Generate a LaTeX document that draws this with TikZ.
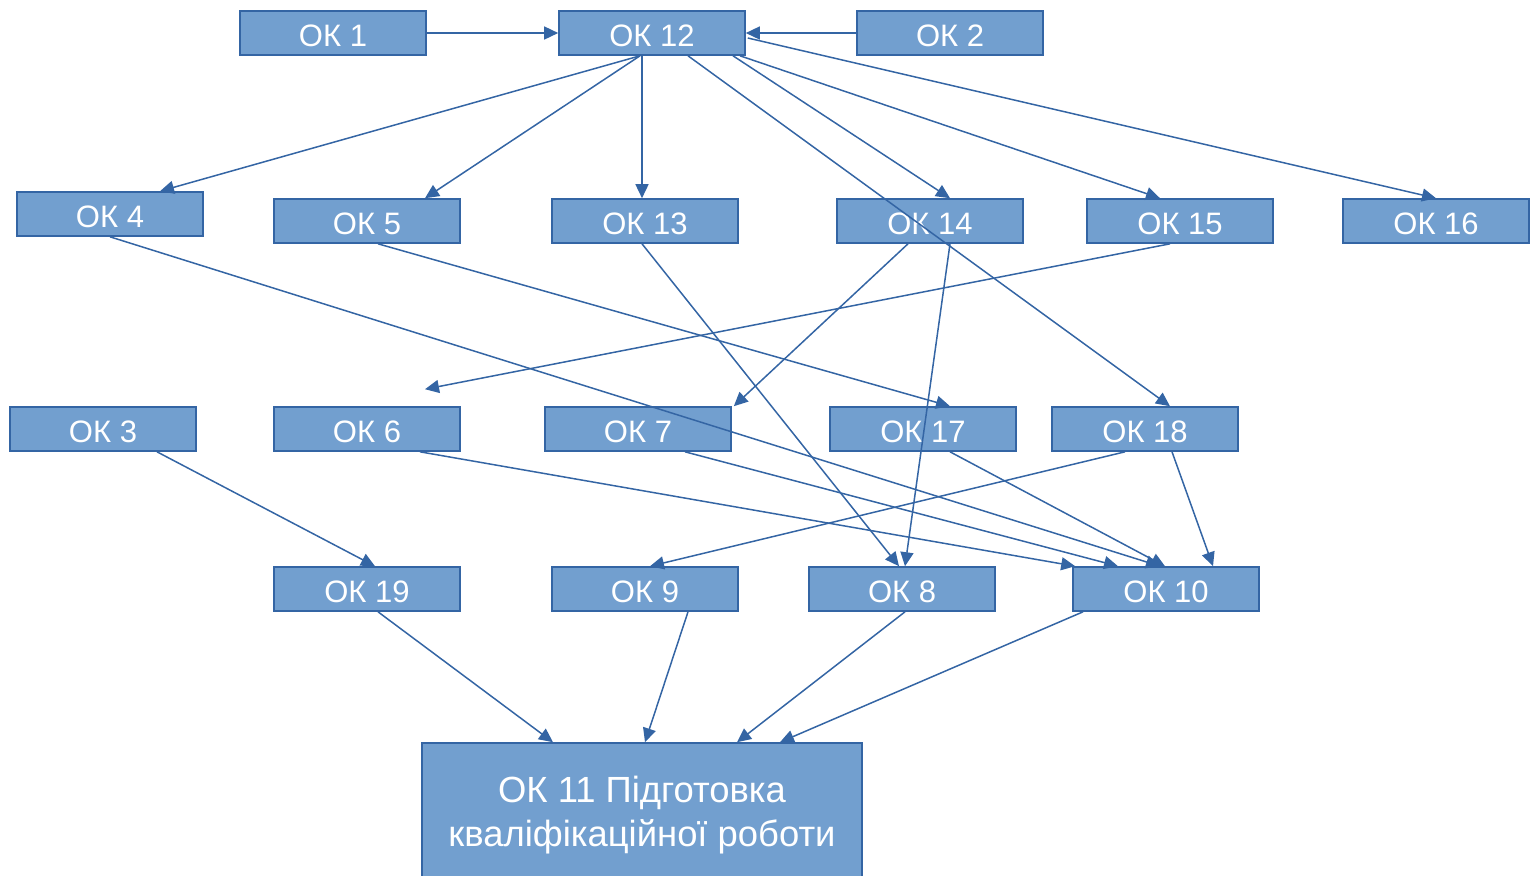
\documentclass[tikz,border=0pt]{standalone}
\usepackage{fontspec}
\setmainfont{Liberation Sans}
\usetikzlibrary{positioning, calc, arrows.meta}

\definecolor{boxfill}{HTML}{729FCF}
\definecolor{boxline}{HTML}{3465A4}

\begin{document}
\begin{tikzpicture}[
    x=0.5pt, y=-0.5pt,
    box/.style={
        rectangle,
        draw=boxline, fill=boxfill, line width=0.8pt,
        text=white, text centered,
        font=\fontsize{15.5}{18}\selectfont,
        inner sep=0pt,
        text height=13pt, text depth=0pt,
        minimum width=93pt,
        minimum height=22pt
    },
    bigbox/.style={
        box, align=center,
        text height=, text depth=,
        font=\fontsize{18.2}{22}\selectfont,
        minimum width=220pt,
        minimum height=72pt
    },
    link/.style={
        draw=boxline, line width=0.75pt,
        -{Triangle[length=7pt, width=6.5pt]}
    }
]
\useasboundingbox (0,0) rectangle (1530,875);

% row 1
\node[box] (ok1) at (333,33) {ОК 1};
\node[box] (ok12) at (652,33) {ОК 12};
\node[box] (ok2) at (950,33) {ОК 2};

% row 2
\node[box] (ok4) at (110,214) {ОК 4};
\node[box] (ok5) at (367,221) {ОК 5};
\node[box] (ok13) at (645,221) {ОК 13};
\node[box] (ok14) at (930,221) {ОК 14};
\node[box] (ok15) at (1180,221) {ОК 15};
\node[box] (ok16) at (1436,221) {ОК 16};

% row 3
\node[box] (ok3) at (103,429) {ОК 3};
\node[box] (ok6) at (367,429) {ОК 6};
\node[box] (ok7) at (638,429) {ОК 7};
\node[box] (ok17) at (923,429) {ОК 17};
\node[box] (ok18) at (1145,429) {ОК 18};

% row 4
\node[box] (ok19) at (367,589) {ОК 19};
\node[box] (ok9) at (645,589) {ОК 9};
\node[box] (ok8) at (902,589) {ОК 8};
\node[box] (ok10) at (1166,589) {ОК 10};

% final
\node[bigbox] (ok11) at (642,815) {ОК 11 Підготовка\\кваліфікаційної роботи};

% links from the top row
\draw[link] (ok1.east) -- (ok12.west);
\draw[link] (ok2.west) -- (ok12.east);
\draw[link] ($(ok12.south)+(-12,0)$) -- ($(ok4.north)+(50,0)$);
\draw[link] ($(ok12.south)+(-12,0)$) -- ($(ok5.north)+(58,0)$);
\draw[link] ($(ok12.south)+(-10,0)$) -- ($(ok13.north)+(-3,0)$);
\draw[link] ($(ok12.south)+(36,0)$) -- ($(ok18.north)+(25,0)$);
\draw[link] ($(ok12.south)+(81,0)$) -- ($(ok14.north)+(20,0)$);
\draw[link] ($(ok12.south)+(88,0)$) -- ($(ok15.north)+(-20,0)$);
\draw[link] ($(ok12.east)+(2,5)$) -- (ok16.north);

% links from the second row
\draw[link] (ok4.south) -- ($(ok10.north)+(-6,0)$);
\draw[link] ($(ok5.south)+(11,0)$) -- ($(ok17.north)+(27,0)$);
\draw[link] ($(ok15.south)+(-10,0)$) -- ($(ok6.north)+(58,-17)$);
\draw[link] ($(ok14.south)+(-22,0)$) -- ($(ok7.north east)+(2,0)$);
\draw[link] ($(ok14.south)+(20,0)$) -- ($(ok8.north)+(3,0)$);
\draw[link] ($(ok13.south)+(-3,0)$) -- ($(ok8.north)+(-3,0)$);

% links from the third row
\draw[link] ($(ok3.south)+(54,0)$) -- ($(ok19.north)+(8,0)$);
\draw[link] ($(ok6.south)+(53,0)$) -- ($(ok10.north west)+(3,0)$);
\draw[link] ($(ok7.south)+(47,0)$) -- ($(ok10.north)+(-48,0)$);
\draw[link] ($(ok17.south)+(27,0)$) -- ($(ok10.north)+(-1,0)$);
\draw[link] ($(ok18.south)+(-20,0)$) -- ($(ok9.north)+(5,0)$);
\draw[link] ($(ok18.south)+(27,0)$) -- ($(ok10.north)+(47,0)$);

% links into the final work
\draw[link] ($(ok19.south)+(11,0)$) -- ($(ok11.north)+(-89,0)$);
\draw[link] ($(ok9.south)+(43,0)$) -- ($(ok11.north)+(3,0)$);
\draw[link] ($(ok8.south)+(3,0)$) -- ($(ok11.north)+(95,0)$);
\draw[link] ($(ok10.south)+(-83,0)$) -- ($(ok11.north)+(138,0)$);

\end{tikzpicture}
\end{document}
